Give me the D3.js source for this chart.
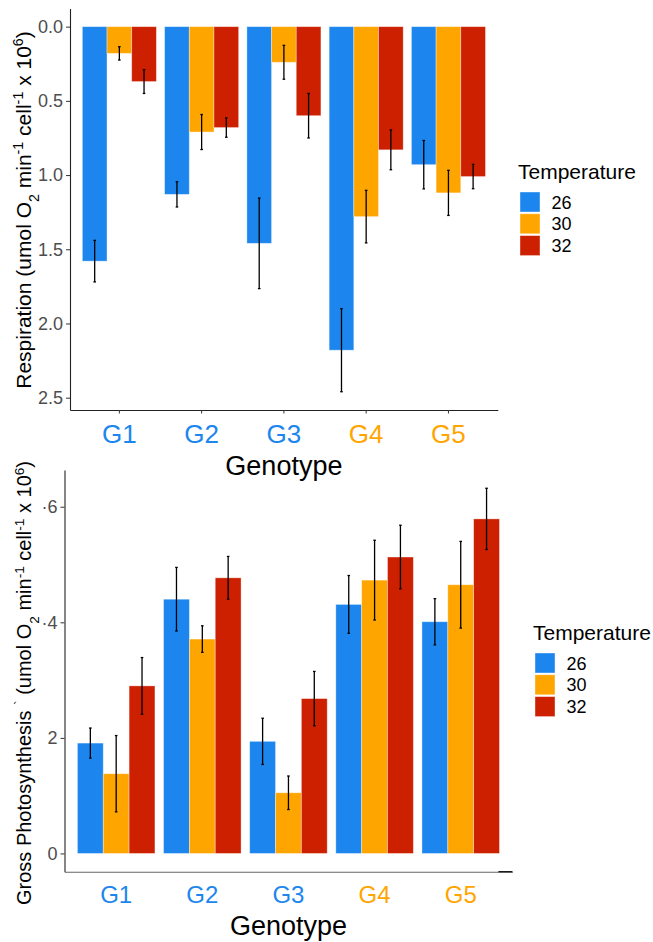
<!DOCTYPE html>
<html>
<head>
<meta charset="utf-8">
<script src="https://cdn.jsdelivr.net/npm/d3@7"></script>
<style>
  body { margin: 0; background: #fff; }
  svg { display: block; font-family: "Liberation Sans", Arial, sans-serif; }
</style>
</head>
<body>
<div id="chart"></div>
<script>
const genotypes = ["G1", "G2", "G3", "G4", "G5"];
const temps = ["26", "30", "32"];
const tempColors = ["#1C86EE", "#FFA500", "#CC2000"];
const genotypeColors = ["#1C86EE", "#1C86EE", "#1C86EE", "#FFA500", "#FFA500"];

// respiration (top panel)
const resp26 = [1.58, 1.13, 1.46, 2.18, 0.93];
const resp30 = [0.18, 0.71, 0.24, 1.28, 1.12];
const resp32 = [0.37, 0.68, 0.60, 0.83, 1.01];
const respSe26 = [0.14, 0.085, 0.305, 0.28, 0.163];
const respSe30 = [0.045, 0.118, 0.114, 0.177, 0.152];
const respSe32 = [0.08, 0.065, 0.15, 0.134, 0.082];
const respTicks = [0, 0.5, 1.0, 1.5, 2.0, 2.5];
const respTickLabels = ["0.0", "0.5", "1.0", "1.5", "2.0", "2.5"];

// gross photosynthesis (bottom panel)
const photo26 = [0.191, 0.440, 0.194, 0.431, 0.401];
const photo30 = [0.138, 0.371, 0.105, 0.473, 0.465];
const photo32 = [0.290, 0.477, 0.268, 0.513, 0.579];
const photoSe26 = [0.026, 0.055, 0.040, 0.050, 0.040];
const photoSe30 = [0.066, 0.023, 0.029, 0.069, 0.075];
const photoSe32 = [0.049, 0.037, 0.047, 0.055, 0.053];
const photoTicks = [0, 0.2, 0.4, 0.6];
const photoTickLabels = ["0", "2", "\u00b74", "\u00b76"];

const W = 653, H = 942;

const svg = d3.select("#chart")
    .append("svg")
    .attr("width", W)
    .attr("height", H);

function rows(means, ses) {
    const out = [];
    genotypes.forEach((g, i) => {
        temps.forEach((t, j) => {
            out.push({ g: g, t: t, mean: means[j][i], se: ses[j][i], color: tempColors[j] });
        });
    });
    return out;
}

function drawPanel(p) {
    const data = rows(p.means, p.ses);
    const maxV = d3.max(data, d => d.mean + d.se);
    const pad = maxV * 0.05;

    const x = d3.scaleBand()
        .domain(genotypes)
        .range([p.left, p.right])
        .paddingInner(0.1)
        .paddingOuter(0.15);

    const x1 = d3.scaleBand()
        .domain(temps)
        .range([0, x.bandwidth()]);

    const y = d3.scaleLinear()
        .domain([-pad, maxV + pad])
        .range(p.flip ? [p.top, p.bottom] : [p.bottom, p.top]);

    const g = svg.append("g");

    // bars
    g.selectAll(".bar")
        .data(data)
        .enter()
        .append("rect")
        .attr("x", d => x(d.g) + x1(d.t))
        .attr("y", d => Math.min(y(0), y(d.mean)))
        .attr("width", x1.bandwidth())
        .attr("height", d => Math.abs(y(d.mean) - y(0)))
        .attr("fill", d => d.color)
        .attr("stroke", "#fff")
        .attr("stroke-opacity", 0.45)
        .attr("stroke-width", 0.8);

    // error bars
    const eb = g.selectAll(".err")
        .data(data)
        .enter()
        .append("g")
        .attr("stroke", "#000")
        .attr("stroke-width", 1.3);
    const cx = d => x(d.g) + x1(d.t) + x1.bandwidth() / 2;
    eb.append("line")
        .attr("x1", cx).attr("x2", cx)
        .attr("y1", d => y(d.mean - d.se))
        .attr("y2", d => y(d.mean + d.se));
    eb.append("line")
        .attr("x1", d => cx(d) - 1.3).attr("x2", d => cx(d) + 1.3)
        .attr("y1", d => y(d.mean - d.se)).attr("y2", d => y(d.mean - d.se));
    eb.append("line")
        .attr("x1", d => cx(d) - 1.3).attr("x2", d => cx(d) + 1.3)
        .attr("y1", d => y(d.mean + d.se)).attr("y2", d => y(d.mean + d.se));

    // y axis
    const yAxis = g.append("g")
        .attr("transform", `translate(${p.left}, 0)`)
        .call(d3.axisLeft(y)
            .tickValues(p.ticks)
            .tickFormat((d, i) => p.tickLabels[i])
            .tickSize(4)
            .tickSizeOuter(0)
            .tickPadding(3));
    yAxis.select(".domain").attr("stroke", "#222").attr("stroke-width", 1.1);
    yAxis.selectAll(".tick line").attr("stroke", "#333").attr("stroke-width", 1);
    yAxis.selectAll(".tick text")
        .attr("fill", "#4d4d4d")
        .style("font-size", "18px")
        .style("font-family", "Liberation Sans, Arial, sans-serif");

    // x axis
    const xAxis = g.append("g")
        .attr("transform", `translate(0, ${p.bottom})`)
        .call(d3.axisBottom(x)
            .tickSize(p.xTick)
            .tickSizeOuter(0)
            .tickPadding(p.xPad));
    xAxis.select(".domain").attr("stroke", p.xLine).attr("stroke-width", 1.1);
    xAxis.selectAll(".tick line").attr("stroke", "#333").attr("stroke-width", 1);
    xAxis.selectAll(".tick text")
        .attr("fill", (d, i) => genotypeColors[i])
        .style("font-size", p.xFont + "px")
        .style("font-family", "Liberation Sans, Arial, sans-serif");

    if (p.stub) {
        g.append("line")
            .attr("x1", p.right - p.stub).attr("x2", p.right)
            .attr("y1", p.bottom).attr("y2", p.bottom)
            .attr("stroke", "#111").attr("stroke-width", 1.3);
    }

    // x title
    g.append("text")
        .attr("x", (p.left + p.right) / 2)
        .attr("y", p.xTitleY)
        .attr("text-anchor", "middle")
        .style("font-size", "27px")
        .attr("fill", "#000")
        .text("Genotype");

    // y title
    const yt = g.append("text")
        .attr("transform", `translate(${p.yTitleX}, ${p.yTitleCy}) rotate(-90)`)
        .attr("text-anchor", "middle")
        .style("font-size", p.yTitleFont + "px")
        .attr("fill", "#000");
    p.titleParts.forEach(part => {
        const ts = yt.append("tspan").text(part.t);
        if (part.sup) ts.attr("baseline-shift", "super").style("font-size", "0.68em");
        if (part.sub) ts.attr("baseline-shift", "sub").style("font-size", "0.68em");
    });

    // legend
    const lg = g.append("g").attr("transform", `translate(${p.legX}, ${p.legY})`);
    lg.append("text")
        .attr("x", -2)
        .attr("y", 0)
        .style("font-size", "21px")
        .attr("fill", "#000")
        .text("Temperature");
    temps.forEach((t, i) => {
        lg.append("rect")
            .attr("x", 0)
            .attr("y", 13 + i * 21.8)
            .attr("width", 20)
            .attr("height", 20)
            .attr("fill", tempColors[i])
            .attr("stroke", "#fff")
            .attr("stroke-opacity", 0.5)
            .attr("stroke-width", 0.8);
        lg.append("text")
            .attr("x", 31.5)
            .attr("y", 13 + i * 21.8 + 16.5)
            .style("font-size", "18px")
            .attr("fill", "#000")
            .text(t);
    });
}

const unitParts = [
    { t: " (umol O" }, { t: "2", sub: true }, { t: " min" }, { t: "-1", sup: true },
    { t: " cell" }, { t: "-1", sup: true }, { t: " x 10" }, { t: "6", sup: true }, { t: ")" }
];

drawPanel({
    means: [resp26, resp30, resp32],
    ses: [respSe26, respSe30, respSe32],
    ticks: respTicks,
    tickLabels: respTickLabels,
    flip: true,
    left: 70, right: 497.8, top: 8.4, bottom: 410,
    xTick: 3.5, xPad: 11, xFont: 26, xLine: "#222",
    xTitleY: 475,
    yTitleX: 31, yTitleCy: 210, yTitleFont: 21,
    titleParts: [{ t: "Respiration" }].concat(unitParts),
    legX: 520, legY: 179
});

drawPanel({
    means: [photo26, photo30, photo32],
    ses: [photoSe26, photoSe30, photoSe32],
    ticks: photoTicks,
    tickLabels: photoTickLabels,
    flip: false,
    left: 64.5, right: 512.4, top: 470, bottom: 871.7,
    xTick: 0, xPad: 14, xFont: 24, xLine: "#666",
    stub: 14,
    xTitleY: 935,
    yTitleX: 31, yTitleCy: 683, yTitleFont: 20,
    titleParts: [{ t: "Gross Photosynthesis " }, { t: "`", sup: true }].concat(unitParts),
    legX: 535, legY: 640
});
</script>
</body>
</html>
